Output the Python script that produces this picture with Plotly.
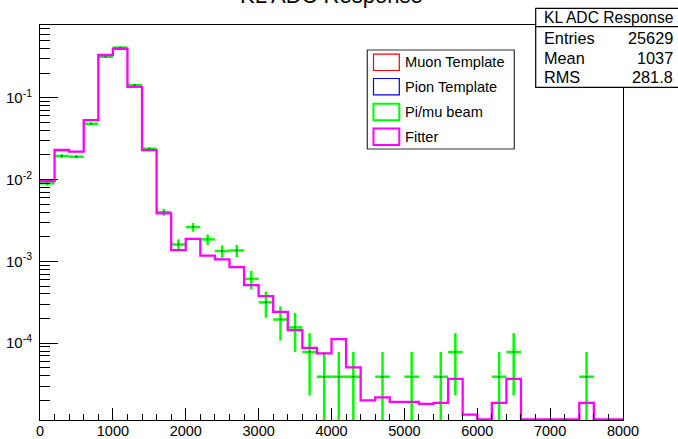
import plotly.graph_objects as go

# ---------------- data ----------------
bin_edges = list(range(0, 8001, 200))          # 40 bins of width 200
bin_centers = [e + 100 for e in bin_edges[:-1]]

fitter = [0.0096, 0.0230, 0.0219, 0.0534, 0.333, 0.397, 0.136, 0.0229,
          0.00386, 0.00137, 0.00189, 0.00118, 0.00106, 0.00085, 0.000513, 0.000377,
          0.000242, 0.000145, 0.0000879, 0.000075, 0.000112, 0.0000506, 0.0000200, 0.0000218,
          0.0000192, 0.0000192, 0.0000182, 0.0000187, 0.0000367, 0.0000134, 0, 0.0000187,
          0.0000367, 0, 0, 0, 0, 0.0000187, 0, 0]

beam = [0.0090, 0.0194, 0.0190, 0.0480, 0.317, 0.410, 0.143, 0.0238,
        0.0040, 0.00161, 0.00263, 0.00186, 0.00134, 0.00136, 0.000612, 0.000316,
        0.000195, 0.000156, 0.000078, 0.000039, 0.000039, 0.000039, None, 0.000039,
        None, 0.000039, None, 0.000039, 0.000078, None, None, 0.000039,
        0.000078, None, None, None, None, 0.000039, None, None]

beam_err = [0.0006, 0.00087, 0.00086, 0.00137, 0.0035, 0.0040, 0.0024, 0.00096,
            0.00039, 0.00025, 0.00032, 0.00027, 0.00023, 0.00023, 0.000156, 0.000111,
            0.000087, 0.000078, 0.000055, 0.000039, 0.000039, 0.000039, None, 0.000039,
            None, 0.000039, None, 0.000039, 0.000055, None, None, 0.000039,
            0.000055, None, None, None, None, 0.000039, None, None]

y_tick_vals = [1e-4, 1e-3, 1e-2, 1e-1]
y_tick_text = ["10<sup>-4</sup>", "10<sup>-3</sup>", "10<sup>-2</sup>", "10<sup>-1</sup>"]

legend_labels = ["Muon Template", "Pion Template", "Pi/mu beam", "Fitter"]
legend_colors = ["#ff0000", "#0000ff", "#00ff00", "#ff00ff"]

stats_title = "KL ADC Response"
stats_names = ["Entries", "Mean", "RMS"]
stats_values = ["25629", "1037", "281.8"]

# ---------------- layout geometry ----------------
W, H = 678, 439
L, R, T, B = 40, 55, 25, 19
PW, PH = W - L - R, H - T - B
YMIN, YMAX = -4.938, -0.111
FONT = "Liberation Sans, Arial, Helvetica, sans-serif"


def xp(px):
    return (px - L) / PW


def yp(py):
    return (H - B - py) / PH


floor_val = 10 ** (YMIN + 0.008)
fit_plot = [v if v > 0 else floor_val for v in fitter]

fig = go.Figure()

fig.add_trace(go.Scatter(
    x=bin_centers, y=beam, mode="markers",
    marker=dict(size=2, color="rgb(0,110,0)"),
    error_y=dict(type="data", array=beam_err, color="#00ff00", thickness=2.5, width=0),
    error_x=dict(type="constant", value=100, color="#00ff00", thickness=2.5, width=0),
    showlegend=False, name="Pi/mu beam", hoverinfo="skip"))

fig.add_trace(go.Scatter(
    x=bin_edges, y=fit_plot + [fit_plot[-1]], mode="lines",
    line=dict(shape="hv", color="#ff00ff", width=2.3),
    showlegend=False, name="Fitter", hoverinfo="skip"))

shapes = []
annotations = []

# legend (drawn like ROOT's TLegend)
lg_l, lg_r, lg_t, lg_b = 367.3, 514.3, 50, 149
shapes.append(dict(type="rect", xref="paper", yref="paper",
                   x0=xp(lg_l), x1=xp(lg_r), y0=yp(lg_b), y1=yp(lg_t),
                   line=dict(color="#333333", width=1.2), fillcolor="white", layer="above"))
row_y = [62.3, 86.7, 112.0, 136.7]
for lab, col, cy, lw in zip(legend_labels, legend_colors, row_y, [1.2, 1.2, 2, 2]):
    shapes.append(dict(type="rect", xref="paper", yref="paper",
                       x0=xp(373.5), x1=xp(399.3), y0=yp(cy + 8.2), y1=yp(cy - 8.2),
                       line=dict(color=col, width=lw), fillcolor="rgba(0,0,0,0)", layer="above"))
    annotations.append(dict(text=lab, xref="paper", yref="paper", x=xp(403), y=yp(cy),
                            xanchor="left", yanchor="middle", showarrow=False,
                            font=dict(family=FONT, size=14.6, color="black")))

# stats box
sb_l, sb_r, sb_t, sb_sep, sb_b = 535.7, 700, 8.3, 26.7, 87.3
shapes.append(dict(type="rect", xref="paper", yref="paper",
                   x0=xp(sb_l), x1=xp(sb_r), y0=yp(sb_b), y1=yp(sb_t),
                   line=dict(color="black", width=1.2), fillcolor="white", layer="above"))
shapes.append(dict(type="line", xref="paper", yref="paper",
                   x0=xp(sb_l), x1=xp(sb_r), y0=yp(sb_sep), y1=yp(sb_sep),
                   line=dict(color="black", width=1.2), layer="above"))
annotations.append(dict(text=stats_title, xref="paper", yref="paper", x=xp(541.5), y=yp(17.5),
                        xanchor="left", yanchor="middle", showarrow=False,
                        font=dict(family=FONT, size=15.6, color="black")))
for nm, val, cy in zip(stats_names, stats_values, [38.3, 57.5, 77.3]):
    annotations.append(dict(text=nm, xref="paper", yref="paper", x=xp(541.5), y=yp(cy),
                            xanchor="left", yanchor="middle", showarrow=False,
                            font=dict(family=FONT, size=16.3, color="black")))
    annotations.append(dict(text=val, xref="paper", yref="paper", x=xp(675), y=yp(cy),
                            xanchor="right", yanchor="middle", showarrow=False,
                            font=dict(family=FONT, size=16.3, color="black")))

# title (mostly cut off at the top of the canvas)
annotations.append(dict(text="KL ADC Response", xref="paper", yref="paper", x=0.5, y=yp(10),
                        xanchor="center", yanchor="bottom", showarrow=False,
                        font=dict(family=FONT, size=22, color="black")))

fig.update_layout(
    width=W, height=H,
    margin=dict(l=L, r=R, t=T, b=B, pad=0),
    paper_bgcolor="white", plot_bgcolor="white",
    font=dict(family=FONT, size=14, color="black"),
    shapes=shapes, annotations=annotations,
    showlegend=False,
    xaxis=dict(range=[0, 8000], showgrid=False, zeroline=False,
               showline=True, linecolor="black", linewidth=1, mirror=True,
               ticks="inside", ticklen=12, tickcolor="black", tickwidth=1,
               dtick=1000, tick0=0, tickfont=dict(size=14.5),
               ticklabelstandoff=-2,
               minor=dict(ticks="inside", ticklen=6, dtick=200, tickcolor="black", showgrid=False),
               automargin=False),
    yaxis=dict(type="log", range=[YMIN, YMAX], showgrid=False, zeroline=False,
               showline=True, linecolor="black", linewidth=1, mirror=True,
               ticks="inside", ticklen=18, tickcolor="black", tickwidth=1,
               tickmode="array", tickvals=y_tick_vals, ticktext=y_tick_text,
               tickfont=dict(size=15),
               ticklabelstandoff=4,
               minor=dict(ticks="inside", ticklen=10, dtick="D1", tickcolor="black", showgrid=False),
               automargin=False),
)

fig.write_html("out.html",
               config={"displayModeBar": False, "staticPlot": True},
               post_script="document.body.style.margin='0px';document.body.style.overflow='hidden';")
